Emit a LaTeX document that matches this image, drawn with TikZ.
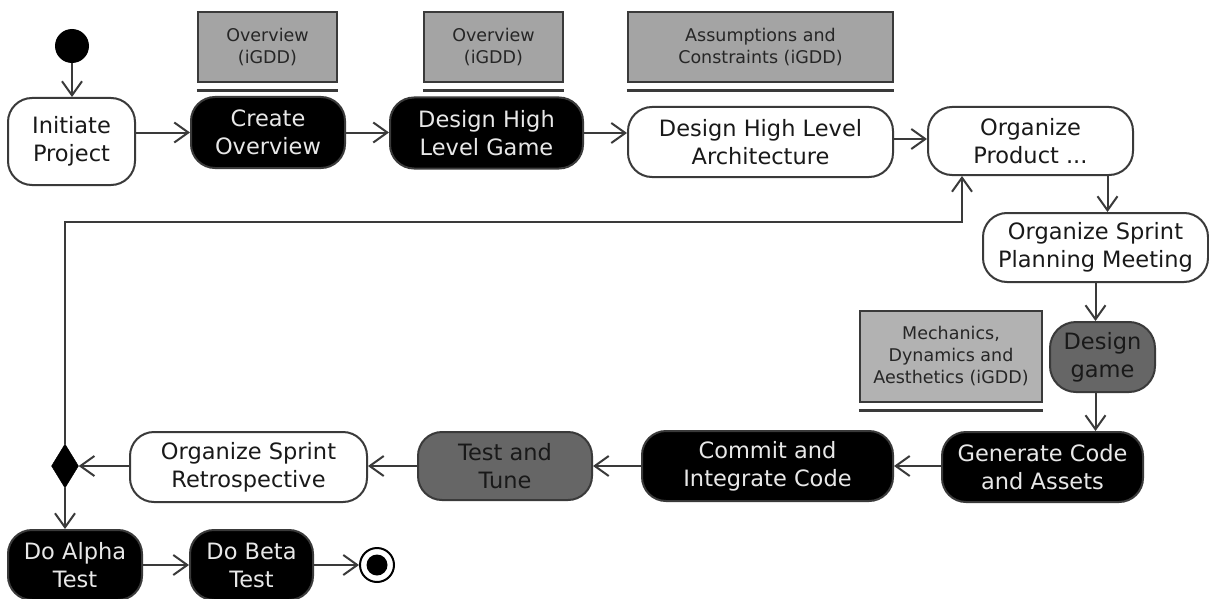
\documentclass[tikz,border=0pt]{standalone}
\usepackage{fontspec}
\setmainfont{DejaVu Sans}
\usetikzlibrary{arrows.meta,shapes.geometric,calc}
\definecolor{linec}{HTML}{3A3A3A}
\definecolor{artfill}{HTML}{A4A4A4}
\definecolor{artfillb}{HTML}{B2B2B2}
\definecolor{grayfill}{HTML}{666666}
\definecolor{lighttext}{HTML}{E8E8E8}
\tikzset{
  act/.style={draw=linec, line width=2pt, rounded corners=24pt, align=center,
    inner sep=0pt, font=\fontsize{22.5}{28}\selectfont},
  whiteact/.style={act, fill=white, text=black!90},
  blackact/.style={act, fill=black, text=lighttext},
  grayact/.style={act, fill=grayfill, text=black!90},
  artifact/.style={draw=linec, line width=2.5pt, fill=artfill, align=center,
    inner sep=0pt, font=\fontsize{17.5}{22}\selectfont, text=black!85},
  underline/.style={draw=linec, line width=3pt},
  arr/.style={draw=linec, line width=2pt, -{Straight Barb[length=14pt,width=20pt,line width=2pt]}},
}
\begin{document}
\begin{tikzpicture}[x=1pt,y=-1pt]
\useasboundingbox[fill=white] (0,0) rectangle (1209,599);

% start
\node[circle, fill=black, minimum size=34pt, inner sep=0pt] (start) at (72,46) {};

% top row
\node[whiteact, minimum width=127pt, minimum height=87pt] (init) at (71.5,141.5) {Initiate\\Project};
\node[blackact, minimum width=154pt, minimum height=71pt] (create) at (268,132.5) {Create\\Overview};
\node[blackact, minimum width=193pt, minimum height=71pt] (dhlg) at (486.5,133) {Design High\\Level Game};
\node[whiteact, minimum width=265pt, minimum height=70pt] (arch) at (760.5,142) {Design High Level\\Architecture};
\node[whiteact, minimum width=205pt, minimum height=68pt] (prod) at (1030.5,141) {Organize\\Product ...};
\node[whiteact, minimum width=225pt, minimum height=69pt] (plan) at (1095.5,247.5) {Organize Sprint\\Planning Meeting};
\node[grayact, rounded corners=26pt, minimum width=105pt, minimum height=70pt] (dgame) at (1102.5,357) {Design\\game};

% artifacts
\node[artifact, minimum width=139pt, minimum height=70pt] (ov1) at (267.5,47) {Overview\\(iGDD)};
\node[artifact, minimum width=139pt, minimum height=70pt] (ov2) at (493.5,47) {Overview\\(iGDD)};
\node[artifact, minimum width=265pt, minimum height=70pt] (assum) at (760.5,47) {Assumptions and\\Constraints (iGDD)};
\node[artifact, fill=artfillb, minimum width=182pt, minimum height=91pt] (mech) at (951,356.5) {Mechanics,\\Dynamics and\\Aesthetics (iGDD)};
\draw[underline] ([yshift=-7pt]ov1.south west) -- ([yshift=-7pt]ov1.south east);
\draw[underline] ([yshift=-7pt]ov2.south west) -- ([yshift=-7pt]ov2.south east);
\draw[underline] ([yshift=-7pt]assum.south west) -- ([yshift=-7pt]assum.south east);
\draw[underline] ([yshift=-7pt]mech.south west) -- ([yshift=-7pt]mech.south east);

% bottom row
\node[blackact, minimum width=201pt, minimum height=70pt] (gen) at (1042.5,467) {Generate Code\\and Assets};
\node[blackact, minimum width=251pt, minimum height=70pt] (commit) at (767.5,466) {Commit and\\Integrate Code};
\node[grayact, minimum width=174pt, minimum height=68pt] (test) at (505,466) {Test and\\Tune};
\node[whiteact, minimum width=237pt, minimum height=70pt] (retro) at (248.5,467) {Organize Sprint\\Retrospective};
\node[diamond, fill=black, draw=black, inner sep=0pt, minimum width=27pt, minimum height=44pt] (dia) at (65,466) {};
\node[blackact, minimum width=134pt, minimum height=70pt] (alpha) at (75,565) {Do Alpha\\Test};
\node[blackact, minimum width=123pt, minimum height=70pt] (beta) at (251.5,565) {Do Beta\\Test};
\node[circle, draw=black, line width=2pt, fill=white, minimum size=34pt, inner sep=0pt] (end) at (377,565) {};
\node[circle, fill=black, minimum size=21pt, inner sep=0pt] (endin) at (end) {};

% connectors
\draw[arr] (start) -- (start |- init.north);
\draw[arr] (init.east |- create.west) -- (create.west);
\draw[arr] (create.east) -- (create.east -| dhlg.west);
\draw[arr] (dhlg.east) -- (dhlg.east -| arch.west);
\draw[arr] ([yshift=3pt]arch.east) -- ([yshift=3pt]arch.east -| prod.west);
\draw[arr] ([xshift=12pt]plan.north |- prod.south) -- ([xshift=12pt]plan.north);
\draw[arr] (plan.south) -- (plan.south |- dgame.north);
\draw[arr] (plan.south |- dgame.south) -- (plan.south |- gen.north);
\draw[arr] (gen.west |- commit.east) -- (commit.east);
\draw[arr] (commit.west) -- (commit.west -| test.east);
\draw[arr] (test.west) -- (test.west -| retro.east);
\draw[arr] (retro.west |- dia.east) -- (dia.east);
\draw[arr] (dia.south) -- (dia.south |- alpha.north);
\draw[arr] (alpha.east |- beta.west) -- (beta.west);
\draw[arr] (beta.east |- end.west) -- (end.west);
\coordinate (lp) at (962,222);
\draw[arr] (dia.north) |- (lp) -- (lp |- prod.south);
\end{tikzpicture}
\end{document}
